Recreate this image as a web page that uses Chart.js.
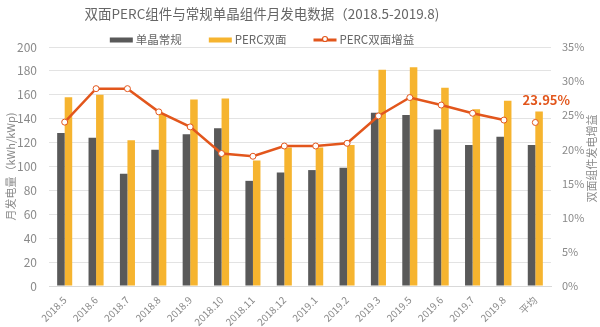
<!DOCTYPE html>
<html>
<head>
<meta charset="utf-8">
<script src="https://cdn.jsdelivr.net/npm/chart.js@4.4.1/dist/chart.umd.min.js"></script>
<style>
  html, body { margin: 0; padding: 0; background: #fff; }
  #wrap { width: 600px; height: 327px; }
</style>
</head>
<body>
<div id="wrap"><canvas id="chart" width="600" height="327"></canvas></div>
<script>
// Monthly output of mono vs bifacial PERC modules, plus the gain of PERC
const categories = ['2018.5', '2018.6', '2018.7', '2018.8', '2018.9', '2018.10', '2018.11', '2018.12',
    '2019.1', '2019.2', '2019.3', '2019.5', '2019.6', '2019.7', '2019.8', '平均'];
const monoValues = [128, 124, 94, 114, 127, 132, 88, 95, 97, 99, 145, 143, 131, 118, 125, 118];
const percValues = [158, 160, 122, 144, 156, 157, 105, 116, 116, 118, 181, 183, 166, 148, 155, 146];
const gainValues = [24.0, 28.9, 28.9, 25.5, 23.3, 19.4, 19.0, 20.5, 20.5, 20.9, 24.9, 27.6, 26.5, 25.3, 24.3, null];
const avgGain = 23.95;
const avgGainValues = categories.map((c, i) => i === categories.length - 1 ? avgGain : null);

const leftTicks = [0, 20, 40, 60, 80, 100, 120, 140, 160, 180, 200];
const rightTicks = [0, 5, 10, 15, 20, 25, 30, 35];

const chartTitle = '双面PERC组件与常规单晶组件月发电数据（2018.5-2019.8)';
const legendOrder = [1, 2, 0];

const GREY = '#595959';
const YELLOW = '#f6b42f';
const ORANGE = '#e2561c';
const TEXT = '#8a8a8a';
const FONT = "'Noto Sans CJK SC', 'Noto Sans', sans-serif";

Chart.defaults.font.family = FONT;
Chart.defaults.color = TEXT;

// title + legend drawn together so the header sits where we want it
const header = {
    id: 'header',
    afterDraw(chart) {
        const ctx = chart.ctx;
        const cx = 262;
        ctx.save();
        ctx.font = '13.5px ' + FONT;
        ctx.fillStyle = '#666';
        ctx.textAlign = 'center';
        ctx.textBaseline = 'middle';
        ctx.fillText(chartTitle, cx, 14);

        ctx.font = '11.5px ' + FONT;
        const boxW = 23, gap = 3, spacing = 27;
        const items = legendOrder.map(i => {
            const ds = chart.data.datasets[i];
            return { ds, w: boxW + gap + ctx.measureText(ds.label).width };
        });
        const total = items.reduce((s, it) => s + it.w, 0) + spacing * (items.length - 1);
        let x = cx - total / 2;
        const y = 40;
        items.forEach(it => {
            const isLine = it.ds.type === 'line';
            ctx.fillStyle = isLine ? ORANGE : it.ds.backgroundColor;
            if (isLine) {
                ctx.fillRect(x, y - 1.5, boxW, 3);
                ctx.beginPath();
                ctx.arc(x + boxW / 2, y - 1, 2.5, 0, Math.PI * 2);
                ctx.fillStyle = '#fff';
                ctx.fill();
                ctx.lineWidth = 1.2;
                ctx.strokeStyle = ORANGE;
                ctx.stroke();
            } else {
                ctx.fillRect(x, y - 2.5, boxW, 5);
            }
            ctx.fillStyle = '#666';
            ctx.textAlign = 'left';
            ctx.fillText(it.ds.label, x + boxW + gap, y);
            x += it.w + spacing;
        });
        ctx.restore();
    }
};

// right axis title reads bottom-to-top, so draw it by hand
const rightTitle = {
    id: 'rightTitle',
    afterDraw(chart) {
        const ctx = chart.ctx;
        const area = chart.chartArea;
        ctx.save();
        ctx.translate(592, (area.top + area.bottom) / 2 - 8);
        ctx.rotate(-Math.PI / 2);
        ctx.font = '11px ' + FONT;
        ctx.fillStyle = TEXT;
        ctx.textAlign = 'center';
        ctx.textBaseline = 'middle';
        ctx.fillText('双面组件发电增益', 0, 0);
        ctx.restore();
    }
};

// value label for the average point
const avgLabel = {
    id: 'avgLabel',
    afterDraw(chart) {
        const meta = chart.getDatasetMeta(3);
        const pt = meta.data[categories.length - 1];
        if (!pt) return;
        const ctx = chart.ctx;
        ctx.save();
        ctx.font = 'bold 13px ' + FONT;
        ctx.fillStyle = ORANGE;
        ctx.textAlign = 'center';
        ctx.textBaseline = 'middle';
        ctx.fillText(avgGain.toFixed(2) + '%', pt.x + 11, pt.y - 22);
        ctx.restore();
    }
};

new Chart(document.getElementById('chart').getContext('2d'), {
    data: {
        labels: categories,
        datasets: [
            {
                type: 'line',
                label: 'PERC双面增益',
                data: gainValues,
                yAxisID: 'y1',
                borderColor: ORANGE,
                backgroundColor: ORANGE,
                borderWidth: 2.5,
                tension: 0,
                pointRadius: 3,
                pointBorderWidth: 1,
                pointBackgroundColor: '#fff',
                pointBorderColor: ORANGE,
                order: 0
            },
            {
                type: 'bar',
                label: '单晶常规',
                data: monoValues,
                yAxisID: 'y',
                backgroundColor: GREY,
                categoryPercentage: 0.48,
                barPercentage: 1.0,
                order: 2
            },
            {
                type: 'bar',
                label: 'PERC双面',
                data: percValues,
                yAxisID: 'y',
                backgroundColor: YELLOW,
                categoryPercentage: 0.48,
                barPercentage: 1.0,
                order: 2
            },
            {
                type: 'line',
                label: 'avg',
                data: avgGainValues,
                yAxisID: 'y1',
                showLine: false,
                borderColor: ORANGE,
                pointRadius: 3,
                pointBorderWidth: 1,
                pointBackgroundColor: '#fff',
                pointBorderColor: ORANGE,
                order: 0
            }
        ]
    },
    options: {
        responsive: false,
        animation: false,
        layout: { padding: { top: 47, left: 4, right: 0, bottom: 0 } },
        plugins: {
            title: { display: false },
            legend: { display: false },
            tooltip: { enabled: false }
        },
        scales: {
            x: {
                grid: { display: false },
                border: { color: '#d9d9d9' },
                ticks: {
                    color: TEXT,
                    font: { size: 10 },
                    maxRotation: 45,
                    minRotation: 45,
                    padding: 0
                },
                afterFit(scale) { scale.height = 41; }
            },
            y: {
                position: 'left',
                min: 0,
                max: 200,
                afterBuildTicks(scale) { scale.ticks = leftTicks.map(v => ({ value: v })); },
                grid: { color: '#e3e3e3', lineWidth: 1, drawTicks: false },
                border: { display: false },
                ticks: { color: TEXT, font: { size: 12 }, padding: 12 },
                title: {
                    display: true,
                    text: '月发电量（kWh/kWp)',
                    color: TEXT,
                    font: { size: 11 },
                    padding: { top: 0, bottom: 0 }
                },
                afterFit(scale) { scale.width = 45; }
            },
            y1: {
                position: 'right',
                min: 0,
                max: 35,
                afterBuildTicks(scale) { scale.ticks = rightTicks.map(v => ({ value: v })); },
                grid: { display: false, drawTicks: false },
                border: { display: false },
                ticks: {
                    color: TEXT,
                    font: { size: 11 },
                    padding: 11,
                    callback: (v) => v + '%'
                },
                afterFit(scale) { scale.width = 49; }
            }
        }
    },
    plugins: [header, rightTitle, avgLabel]
});
</script>
</body>
</html>
